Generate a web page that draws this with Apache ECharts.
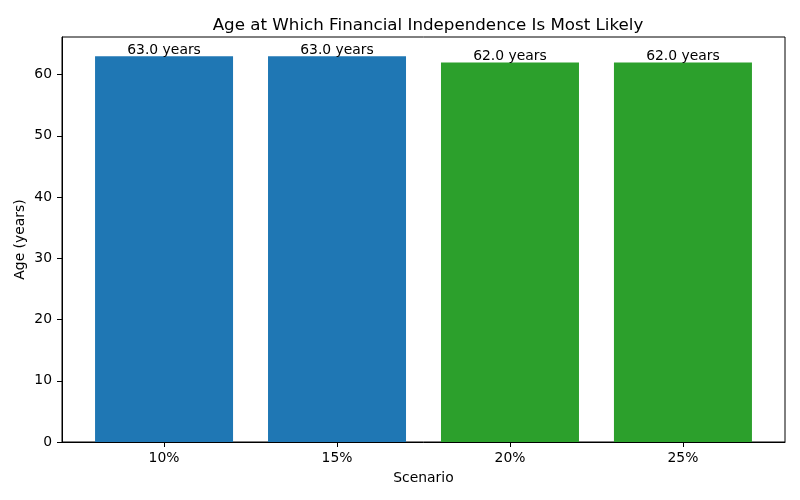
<!DOCTYPE html>
<html>
<head>
<meta charset="utf-8">
<script src="https://cdn.jsdelivr.net/npm/echarts@6/dist/echarts.min.js"></script>
<style>html,body{margin:0;padding:0;background:#fff}#c{width:800px;height:500px}</style>
</head>
<body>
<div id="c"></div>
<script>
const categories = ['10%', '15%', '20%', '25%'];
const ages = [63.0, 63.0, 62.0, 62.0];
const barColors = ['#1f77b4', '#1f77b4', '#2ca02c', '#2ca02c'];
const yTicks = [0, 10, 20, 30, 40, 50, 60];

const font = 'DejaVu Sans';
const chart = echarts.init(document.getElementById('c'), null, {renderer: 'canvas'});
const xPos = categories.map((c, i) => i);
chart.setOption({
  animation: false,
  backgroundColor: '#fff',
  title: {
    text: 'Age at Which Financial Independence Is Most Likely',
    left: 423, top: 12, textAlign: 'center',
    textStyle: {fontFamily: font, fontSize: 16.7, fontWeight: 'normal', color: '#000'}
  },
  grid: {left: 62, right: 15, top: 37, bottom: 58, show: true, borderColor: '#000', borderWidth: 1, backgroundColor: 'transparent'},
  xAxis: {
    type: 'value', min: -0.59, max: 3.59,
    name: 'Scenario', nameLocation: 'middle', nameGap: 29,
    nameTextStyle: {fontFamily: font, fontSize: 13.9, color: '#000'},
    axisLine: {show: true, onZero: false, lineStyle: {color: '#000'}},
    axisTick: {show: true, inside: false, length: 5, lineStyle: {color: '#000'}, customValues: xPos},
    axisLabel: {fontFamily: font, fontSize: 13.9, color: '#000', margin: 9, customValues: xPos,
      formatter: v => categories[Math.round(v)] ?? ''},
    splitLine: {show: false}
  },
  yAxis: {
    type: 'value', min: 0, max: 66.15,
    name: 'Age (years)', nameLocation: 'middle', nameGap: 35, nameMoveOverlap: false,
    nameTextStyle: {fontFamily: font, fontSize: 13.9, color: '#000'},
    axisLine: {show: true, onZero: false, lineStyle: {color: '#000'}},
    axisTick: {show: true, inside: false, length: 5, lineStyle: {color: '#000'}, customValues: yTicks},
    axisLabel: {fontFamily: font, fontSize: 13.9, color: '#000', margin: 10, customValues: yTicks},
    splitLine: {show: false}
  },
  series: [{
    type: 'bar',
    barWidth: 138,
    data: ages.map((v, i) => ({value: [i, v], itemStyle: {color: barColors[i]}})),
    label: {
      show: true, position: 'top', distance: -1,
      fontFamily: font, fontSize: 13.9, color: '#000',
      formatter: p => p.value[1].toFixed(1) + ' years'
    }
  }]
});
</script>
</body>
</html>
